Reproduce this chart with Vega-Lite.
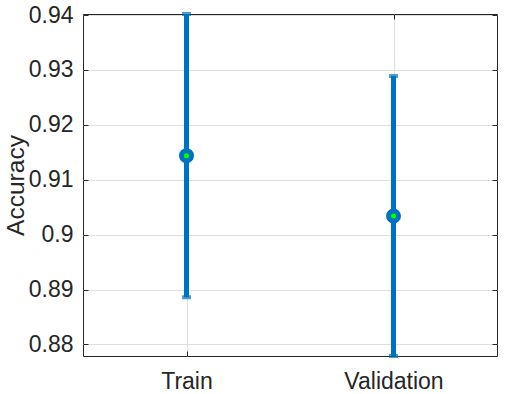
{
  "$schema": "https://vega.github.io/schema/vega-lite/v6.json",
  "width": 414,
  "height": 342,
  "autosize": "none",
  "padding": {"left": 83, "top": 14, "right": 8, "bottom": 38},
  "background": "white",
  "config": {
    "view": {"stroke": "#262626", "strokeWidth": 1},
    "font": "Liberation Sans",
    "axis": {
      "labelFont": "Liberation Sans",
      "titleFont": "Liberation Sans",
      "labelColor": "#262626",
      "titleColor": "#262626",
      "labelFontSize": 23,
      "titleFontSize": 24.5,
      "titleFontWeight": "normal",
      "gridColor": "#dfdfdf",
      "gridWidth": 1,
      "tickColor": "#262626",
      "domain": false
    }
  },
  "data": {
    "values": [
      {"set": "Train", "mean": 0.9144, "lower": 0.8886, "upper": 0.9402},
      {"set": "Validation", "mean": 0.9034, "lower": 0.8779, "upper": 0.9289}
    ]
  },
  "encoding": {
    "x": {"field": "set", "type": "nominal", "sort": null,
      "scale": {"type": "point", "padding": 0.5}}
  },
  "resolve": {"axis": {"y": "independent", "x": "independent"}},
  "layer": [
    {
      "mark": {"type": "rule", "strokeWidth": 5, "color": "#0072BD"},
      "encoding": {
        "x": {"field": "set", "type": "nominal", "sort": null,
          "scale": {"type": "point", "padding": 0.5},
          "axis": {"orient": "bottom", "title": null, "labelAngle": 0, "grid": true, "tickSize": -5, "labelPadding": 19}},
        "y": {"field": "lower", "type": "quantitative",
          "scale": {"domain": [0.8779, 0.9402], "zero": false, "nice": false},
          "axis": {"orient": "left", "title": "Accuracy", "values": [0.88, 0.89, 0.9, 0.91, 0.92, 0.93, 0.94],
            "format": ".2~f", "grid": true, "tickSize": -5, "labelPadding": 15, "titlePadding": 0}},
        "y2": {"field": "upper"}
      }
    },
    {
      "mark": {"type": "tick", "color": "#0072BD", "size": 9, "thickness": 4, "orient": "horizontal"},
      "encoding": {
        "x": {"field": "set", "type": "nominal", "sort": null,
          "axis": {"orient": "top", "title": null, "labels": false, "grid": false, "tickSize": -5}},
        "y": {"field": "lower", "type": "quantitative",
          "axis": {"orient": "right", "title": null, "labels": false, "grid": false, "tickSize": -5,
            "values": [0.88, 0.89, 0.9, 0.91, 0.92, 0.93, 0.94]}}
      }
    },
    {
      "mark": {"type": "tick", "color": "#0072BD", "size": 9, "thickness": 4, "orient": "horizontal"},
      "encoding": {
        "x": {"field": "set", "type": "nominal", "sort": null, "axis": null},
        "y": {"field": "upper", "type": "quantitative", "axis": null}
      }
    },
    {
      "mark": {"type": "point", "shape": "circle", "filled": false, "fill": "#00FF00", "stroke": "#0072BD", "strokeWidth": 5, "size": 100, "opacity": 1, "fillOpacity": 1},
      "encoding": {
        "x": {"field": "set", "type": "nominal", "sort": null, "axis": null},
        "y": {"field": "mean", "type": "quantitative", "axis": null}
      }
    }
  ]
}
